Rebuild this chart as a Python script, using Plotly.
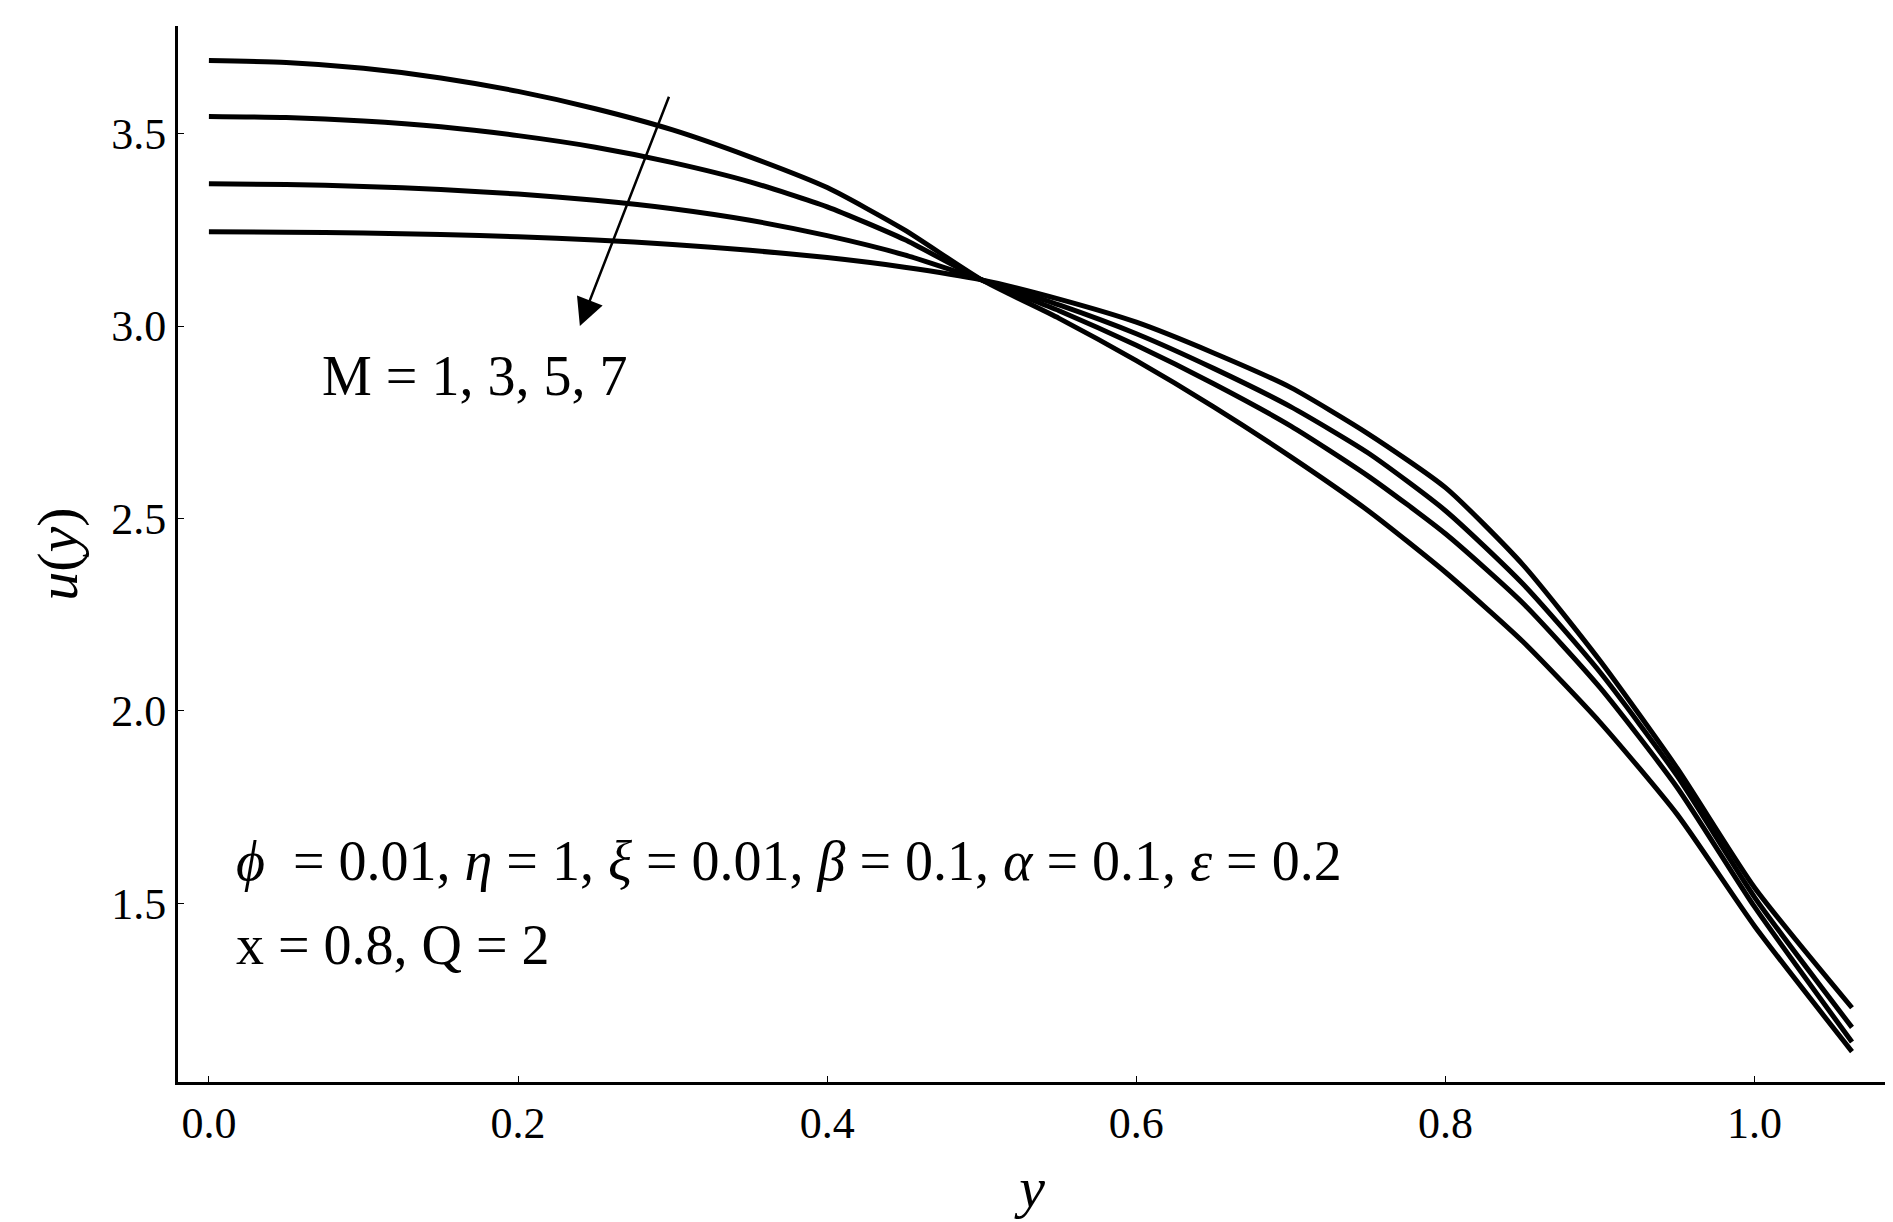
import plotly.graph_objects as go

y_vals = [0.0, 0.05, 0.1, 0.15, 0.2, 0.25, 0.3, 0.35, 0.4, 0.45, 0.5,
          0.55, 0.6, 0.65, 0.7, 0.75, 0.8, 0.85, 0.9, 0.95, 1.0, 1.063]
u_m1 = [3.69, 3.685, 3.67, 3.645, 3.61, 3.565, 3.51, 3.44, 3.36, 3.25, 3.12,
        3.02, 2.91, 2.79, 2.66, 2.52, 2.36, 2.18, 1.97, 1.73, 1.44, 1.114]
u_m3 = [3.545, 3.542, 3.533, 3.518, 3.495, 3.465, 3.425, 3.375, 3.31, 3.225, 3.12,
        3.04, 2.95, 2.85, 2.74, 2.61, 2.46, 2.28, 2.06, 1.80, 1.49, 1.139]
u_m5 = [3.37, 3.368, 3.363, 3.355, 3.343, 3.327, 3.305, 3.275, 3.235, 3.185, 3.12,
        3.055, 2.98, 2.89, 2.79, 2.67, 2.52, 2.33, 2.10, 1.83, 1.515, 1.177]
u_m7 = [3.245, 3.244, 3.242, 3.238, 3.232, 3.224, 3.212, 3.197, 3.178, 3.153, 3.12,
        3.07, 3.01, 2.93, 2.84, 2.72, 2.58, 2.38, 2.13, 1.85, 1.54, 1.228]

fig = go.Figure()
for u in [u_m1, u_m3, u_m5, u_m7]:
    fig.add_trace(go.Scatter(x=y_vals, y=u, mode="lines",
                             line=dict(color="black", width=5, shape="spline", smoothing=0.6),
                             showlegend=False))

font = "Liberation Serif"
fig.add_annotation(x=0.24, y=3.0, ax=0.298, ay=3.60, xref="x", yref="y", axref="x", ayref="y",
                   showarrow=True, arrowhead=2, arrowsize=2.2, arrowwidth=2.5, arrowcolor="black", text="")
fig.add_annotation(x=0.072, y=2.87, text="M = 1, 3, 5, 7", showarrow=False, xanchor="left",
                   font=dict(family=font, size=56, color="black"))
fig.add_annotation(x=0.016, y=1.61, showarrow=False, xanchor="left",
                   text="<i>ϕ</i>  = 0.01, <i>η</i> = 1, <i>ξ</i> = 0.01, <i>β</i> = 0.1, <i>α</i> = 0.1, <i>ε</i> = 0.2",
                   font=dict(family=font, size=56, color="black"))
fig.add_annotation(x=0.016, y=1.39, showarrow=False, xanchor="left", text="x = 0.8, Q = 2",
                   font=dict(family=font, size=56, color="black"))

axis = dict(showgrid=False, zeroline=False, showline=True, linecolor="black", linewidth=3,
            ticks="inside", ticklen=6, tickcolor="black", tickfont=dict(family=font, size=44, color="black"))
fig.update_xaxes(range=[-0.02, 1.085], tickvals=[0, 0.2, 0.4, 0.6, 0.8, 1.0], tickformat=".1f",
                 title=dict(text="<i>y</i>", font=dict(family=font, size=58, color="black"), standoff=20), **axis)
fig.update_yaxes(range=[1.035, 3.78], tickvals=[1.5, 2.0, 2.5, 3.0, 3.5], tickformat=".1f",
                 title=dict(text="<i>u</i>(<i>y</i>)", font=dict(family=font, size=58, color="black"), standoff=15), **axis)
fig.update_layout(width=1893, height=1222, plot_bgcolor="white", paper_bgcolor="white",
                  margin=dict(l=170, r=15, t=18, b=148))
fig.write_html("out.html")
